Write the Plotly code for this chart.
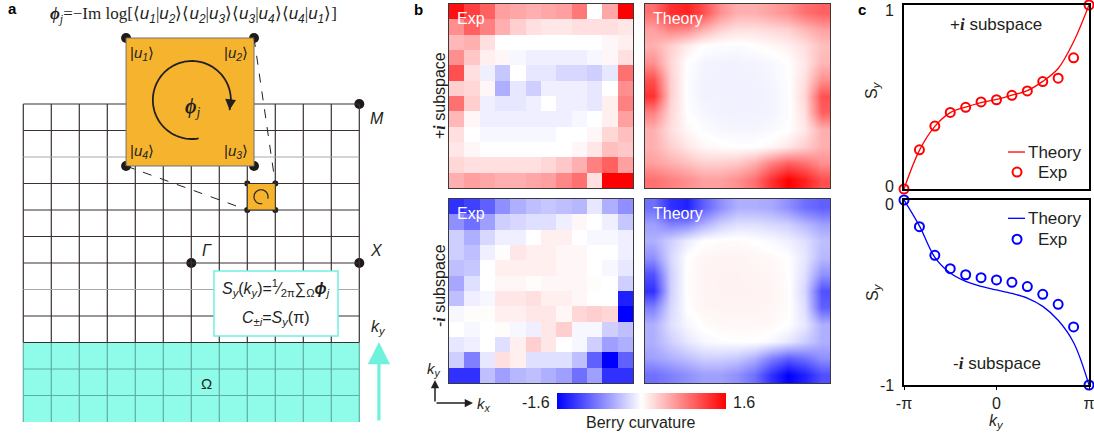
import numpy as np
import plotly.graph_objects as go

W, H = 1094, 438
FONT = "Arial, Liberation Sans, sans-serif"
SERIF = "Times New Roman, Liberation Serif, serif"
INK = "#231f20"
PI = 3.1416

# ---------------- panel b data: Berry curvature (rows: top k_y=pi -> bottom k_y=-pi) -------------
exp_plus = [
    [1.5, 1.2, 1.0, 0.6, 0.55, 0.5, 0.55, 0.6, 0.85, 0.0, 0.55, 1.6],
    [0.7, 1.0, 0.8, 0.5, 0.3, 0.2, 0.15, 0.15, 0.2, 0.2, 0.2, 0.15],
    [0.45, 0.5, 0.2, 0.0, 0.0, 0.0, 0.0, 0.0, 0.0, 0.0, 0.05, 0.1],
    [0.7, 0.35, 0.1, 0.05, -0.05, -0.1, -0.1, -0.1, -0.1, -0.05, 0.05, 0.2],
    [1.1, 0.2, -0.1, -0.35, 0.0, -0.15, -0.15, -0.25, -0.25, -0.3, -0.15, 0.9],
    [0.3, 0.25, 0.05, -0.5, -0.15, -0.3, -0.1, -0.1, -0.1, -0.15, 0.0, 0.7],
    [0.9, 0.3, -0.1, -0.15, -0.15, -0.1, 0.0, -0.1, -0.1, -0.15, 0.1, 0.8],
    [0.45, 0.05, -0.1, -0.1, -0.1, -0.1, -0.1, -0.1, -0.05, 0.0, 0.1, 0.6],
    [0.2, 0.0, -0.05, -0.05, -0.05, -0.05, -0.05, 0.0, 0.0, 0.05, 0.25, 0.4],
    [0.15, 0.05, 0.0, 0.0, 0.0, 0.0, 0.0, 0.0, 0.05, 0.15, 0.4, 0.35],
    [0.25, 0.2, 0.2, 0.2, 0.2, 0.2, 0.25, 0.35, 0.5, 0.8, 1.0, 0.6],
    [0.5, 0.6, 0.55, 0.5, 0.5, 0.55, 0.6, 0.75, 0.9, 0.2, 1.6, 1.6],
]
exp_minus = [
    [-1.3, -1.2, -1.0, -0.7, -0.5, -0.4, -0.35, -0.4, -0.45, -0.15, -0.5, -0.7],
    [-0.7, -0.9, -0.6, -0.3, -0.25, -0.2, -0.2, -0.1, 0.05, 0.0, -0.1, -0.35],
    [-0.3, -0.5, -0.25, -0.1, -0.1, 0.0, 0.1, 0.1, 0.0, -0.05, -0.05, -0.1],
    [-0.3, -0.4, -0.1, 0.02, 0.15, 0.1, 0.1, 0.05, 0.05, 0.0, 0.0, -0.1],
    [-0.4, -0.35, 0.0, 0.1, 0.1, 0.1, 0.1, 0.05, 0.05, 0.0, -0.05, -0.15],
    [-0.55, -0.2, 0.0, 0.05, 0.05, 0.02, 0.05, 0.05, 0.05, 0.02, 0.0, -0.3],
    [-0.4, -0.1, -0.05, 0.15, 0.15, 0.2, 0.1, 0.1, 0.05, 0.0, 0.0, -1.4],
    [-0.05, 0.02, 0.02, 0.1, 0.1, 0.15, 0.15, 0.05, 0.25, 0.3, 0.25, -1.6],
    [0.0, -0.05, 0.0, 0.02, -0.05, -0.1, 0.15, 0.3, -0.05, -0.05, -0.3, -0.4],
    [-0.15, -0.1, 0.0, -0.2, 0.1, 0.3, 0.15, 0.0, -0.05, -0.3, -0.6, -0.5],
    [-0.3, -0.8, -0.15, 0.2, 0.1, -0.2, -0.2, -0.2, -0.4, -1.0, -1.6, -1.0],
    [-1.3, -1.3, -0.4, -0.6, -0.45, -0.4, -0.5, -0.6, -0.9, -0.6, -1.3, -1.3],
]
theory_plus = [
    [0.9, 1.3, 1.4, 1.1, 0.7, 0.5, 0.5, 0.6, 0.7, 0.9, 1.0],
    [0.6, 0.8, 0.75, 0.5, 0.3, 0.2, 0.2, 0.25, 0.3, 0.45, 0.6],
    [0.5, 0.3, 0.12, 0.0, -0.02, -0.03, 0.0, 0.04, 0.1, 0.2, 0.4],
    [0.7, 0.25, 0.0, -0.07, -0.08, -0.08, -0.07, -0.05, 0.0, 0.15, 0.45],
    [1.1, 0.3, -0.02, -0.08, -0.09, -0.09, -0.08, -0.06, -0.01, 0.2, 0.7],
    [1.3, 0.3, -0.02, -0.08, -0.08, -0.09, -0.09, -0.07, -0.02, 0.25, 1.1],
    [0.8, 0.25, 0.0, -0.06, -0.08, -0.08, -0.08, -0.07, -0.02, 0.2, 1.0],
    [0.5, 0.2, 0.05, -0.02, -0.05, -0.06, -0.06, -0.04, 0.0, 0.15, 0.5],
    [0.5, 0.3, 0.15, 0.05, 0.02, 0.0, 0.0, 0.05, 0.15, 0.3, 0.5],
    [0.6, 0.5, 0.4, 0.3, 0.3, 0.35, 0.5, 0.8, 1.0, 0.9, 0.7],
    [0.9, 0.8, 0.7, 0.6, 0.6, 0.7, 0.9, 1.3, 1.6, 1.4, 1.1],
]
theory_minus = [
    [-0.9, -1.3, -1.4, -1.0, -0.7, -0.5, -0.5, -0.55, -0.7, -0.9, -1.0],
    [-0.6, -0.8, -0.75, -0.5, -0.3, -0.2, -0.2, -0.25, -0.3, -0.45, -0.6],
    [-0.5, -0.3, -0.12, 0.0, 0.02, 0.03, 0.0, -0.04, -0.1, -0.2, -0.4],
    [-0.7, -0.25, 0.0, 0.06, 0.07, 0.07, 0.06, 0.04, 0.0, -0.15, -0.45],
    [-1.1, -0.3, 0.02, 0.07, 0.08, 0.08, 0.07, 0.06, 0.01, -0.2, -0.7],
    [-1.3, -0.3, 0.02, 0.07, 0.08, 0.08, 0.08, 0.07, 0.02, -0.25, -1.1],
    [-0.8, -0.25, 0.0, 0.06, 0.07, 0.07, 0.07, 0.06, 0.02, -0.2, -1.0],
    [-0.5, -0.2, -0.05, 0.02, 0.05, 0.05, 0.05, 0.04, 0.0, -0.15, -0.5],
    [-0.5, -0.3, -0.15, -0.05, -0.02, 0.0, 0.0, -0.05, -0.15, -0.3, -0.5],
    [-0.6, -0.5, -0.4, -0.3, -0.3, -0.35, -0.5, -0.8, -1.0, -0.9, -0.7],
    [-0.9, -0.8, -0.7, -0.6, -0.6, -0.7, -0.9, -1.3, -1.6, -1.4, -1.1],
]
berry_min, berry_max = -1.6, 1.6
berry_ticktext = ["-1.6", "1.6"]
berry_colorscale = [[0.0, "rgb(0,0,255)"], [0.5, "rgb(255,255,255)"], [1.0, "rgb(255,0,0)"]]

# ---------------- panel c data: Wilson-loop sums S_y(k_y) -------------
ky = [-3.1416, -2.618, -2.094, -1.571, -1.047, -0.524, 0.0, 0.524, 1.047, 1.571, 2.094, 2.618, 3.1416]
sy_plus_exp = [0.0, 0.213, 0.342, 0.416, 0.444, 0.473, 0.485, 0.509, 0.533, 0.584, 0.602, 0.713, 1.0]
sy_plus_theory = [0.0, 0.21, 0.34, 0.415, 0.445, 0.47, 0.487, 0.51, 0.535, 0.585, 0.655, 0.80, 1.0]
sy_minus_exp = [0.0, -0.144, -0.299, -0.371, -0.404, -0.420, -0.432, -0.445, -0.468, -0.510, -0.564, -0.686, -1.0]
sy_minus_theory = [0.0, -0.14, -0.31, -0.395, -0.44, -0.467, -0.486, -0.505, -0.53, -0.575, -0.65, -0.77, -1.0]
ky_tickvals = [-3.1416, 0.0, 3.1416]
ky_ticktext = ["-π", "0", "π"]

# ---------------- panel a schematic (in Brillouin-zone grid units) -------------
n_grid = 12
omega_rows = 3
light_rows = [5, 10]
big_plaquette = [3.67, 9.66, 8.24, 14.49]   # x0, y0, x1, y1
small_plaquette = [8, 8, 9, 9]
hs_x = [12, 6, 12]
hs_y = [12, 6, 6]


def pxx(x):
    return x / W


def pxy(y):
    return 1 - y / H


fig = go.Figure()

# ---------- panel a ----------
AX_A = dict(xref="x", yref="y")
shapes = []
shapes.append(dict(type="rect", x0=0, x1=n_grid, y0=0, y1=omega_rows, fillcolor="#8ffbe9",
                   line=dict(width=0), layer="below", **AX_A))
dark = "#3b3131"
teal = "#5eaea2"
for i in range(n_grid + 1):
    shapes.append(dict(type="line", x0=i, x1=i, y0=omega_rows, y1=n_grid, line=dict(color=dark, width=1.2), **AX_A))
    shapes.append(dict(type="line", x0=i, x1=i, y0=0, y1=omega_rows, line=dict(color=teal, width=1.2), **AX_A))
for j in range(omega_rows, n_grid + 1):
    col = "#a9a9a9" if j in light_rows else dark
    shapes.append(dict(type="line", x0=0, x1=n_grid, y0=j, y1=j, line=dict(color=col, width=1.2), **AX_A))
for j in range(1, omega_rows):
    shapes.append(dict(type="line", x0=0, x1=n_grid, y0=j, y1=j, line=dict(color=teal, width=1.2), **AX_A))

bx0, by0, bx1, by1 = big_plaquette
sx0, sy0, sx1, sy1 = small_plaquette
orange = "#f6b42e"
shapes.append(dict(type="rect", x0=bx0, x1=bx1, y0=by0, y1=by1, fillcolor=orange,
                   line=dict(color="#707070", width=1), **AX_A))
shapes.append(dict(type="rect", x0=sx0, x1=sx1, y0=sy0, y1=sy1, fillcolor=orange,
                   line=dict(color="#333", width=1), **AX_A))
shapes.append(dict(type="line", x0=bx1, y0=by1, x1=sx1, y1=sy1, line=dict(color=INK, width=1, dash="dash"), **AX_A))
shapes.append(dict(type="line", x0=bx0, y0=by0, x1=sx0, y1=sy0, line=dict(color=INK, width=1, dash="dash"), **AX_A))

# formula box
shapes.append(dict(type="rect", x0=6.81, x1=11.24, y0=3.25, y1=5.70, fillcolor="white",
                   line=dict(color="#6ff0e0", width=1.5), **AX_A))

# circular arrows (schematic glyphs)
ux, uy = 28.0, 26.5   # pixel size of one grid cell


def arc_path(cx, cy, r_px, a0, a1):
    t = np.radians(np.linspace(a0, a1, 80))
    xs = cx + r_px / ux * np.cos(t)
    ys = cy + r_px / uy * np.sin(t)
    return "M " + " L ".join(f"{a:.4f},{b:.4f}" for a, b in zip(xs, ys)), (xs, ys)


annotations = []
for (cx, cy, r, w, asz) in [(6.02, 12.15, 39, 1.8, 1.2), (8.49, 8.5, 7, 1.2, 0.8)]:
    path, (xs, ys) = arc_path(cx, cy, r, -80, -375)
    shapes.append(dict(type="path", path=path, line=dict(color=INK, width=w), **AX_A))
    annotations.append(dict(x=xs[-1], y=ys[-1], ax=xs[-6], ay=ys[-6], axref="x", ayref="y",
                            showarrow=True, arrowhead=2, arrowsize=asz, arrowwidth=w,
                            arrowcolor=INK, text="", **AX_A))

# dots
fig.add_trace(go.Scatter(x=[bx0, bx1, bx0, bx1], y=[by1, by1, by0, by0], mode="markers",
                         marker=dict(size=10, color="#1e1a1a"), xaxis="x", yaxis="y",
                         cliponaxis=False, hoverinfo="skip"))
fig.add_trace(go.Scatter(x=[sx0, sx1, sx0, sx1], y=[sy1, sy1, sy0, sy0], mode="markers",
                         marker=dict(size=6, color="#1e1a1a"), xaxis="x", yaxis="y",
                         cliponaxis=False, hoverinfo="skip"))
fig.add_trace(go.Scatter(x=hs_x, y=hs_y, mode="markers",
                         marker=dict(size=10, color="#1e1a1a"), xaxis="x", yaxis="y",
                         cliponaxis=False, hoverinfo="skip"))


def txt(x, y, text, size=15, family=FONT, color=INK, xref="paper", yref="paper", **kw):
    d = dict(x=x, y=y, text=text, showarrow=False, font=dict(size=size, family=family, color=color),
             xanchor="center", yanchor="middle", xref=xref, yref=yref)
    d.update(kw)
    annotations.append(d)


def ann_a(x, y, text, size=15, family=FONT, **kw):
    txt(x, y, text, size=size, family=family, xref="x", yref="y", **kw)


U = lambda n: f"|<i>u</i><sub><i>{n}</i></sub>⟩"
ann_a(4.24, 13.92, U(1), size=15)
ann_a(7.59, 13.92, U(2), size=15)
ann_a(4.24, 10.19, U(4), size=15)
ann_a(7.59, 10.19, U(3), size=15)
ann_a(6.05, 11.85, "<b><i>ϕ</i></b><sub><i>j</i></sub>", size=20, family=SERIF)
ann_a(12.63, 11.47, "<i>M</i>", size=16)
ann_a(6.56, 6.49, "<i>Γ</i>", size=16)
ann_a(12.63, 6.49, "<i>X</i>", size=16)
ann_a(6.56, 1.47, "Ω", size=15)

uu = lambda a, b: (f'⟨<span style="font-family:Arial, Liberation Sans"><i>u</i><sub><i>{a}</i></sub></span>|'
                   f'<span style="font-family:Arial, Liberation Sans"><i>u</i><sub><i>{b}</i></sub></span>⟩')
formula = ("<b><i>ϕ</i></b><sub><i>j</i></sub>=−Im log[" + uu(1, 2) + uu(2, 3) + uu(3, 4) + uu(4, 1) + "]")
ann_a(6.08, 15.36, formula, size=17, family=SERIF)
ann_a(9.02, 5.06, "<i>S</i><sub><i>y</i></sub>(<i>k</i><sub><i>y</i></sub>)=<sup>1</sup>⁄<sub>2π</sub>"
      "∑<sub>Ω</sub><b><i>ϕ</i></b><sub><i>j</i></sub>", size=16)
ann_a(9.02, 3.92, "<i>C</i><sub>±<i>i</i></sub>=<i>S</i><sub><i>y</i></sub>(π)", size=16)
ann_a(12.70, 3.55, "<i>k</i><sub><i>y</i></sub>", size=16)
annotations.append(dict(x=12.70, y=3.02, ax=12.70, ay=0.0, axref="x", ayref="y", showarrow=True,
                        arrowhead=2, arrowsize=1.4, arrowwidth=3.2, arrowcolor="#6ff2dc", text="", **AX_A))

fig.update_layout(
    xaxis=dict(domain=[0, 400 / W], range=[-23.3 / ux, (400 - 23.3) / ux], visible=False,
               fixedrange=True, automargin=False),
    yaxis=dict(domain=[0, 1], range=[(422 - 438) / uy, 422 / uy], visible=False,
               fixedrange=True, automargin=False),
)

# ---------- panel b ----------
hm_specs = [
    ("x2", "y2", exp_plus, False, (449, 633), (4, 188), "Exp"),
    ("x3", "y3", theory_plus, True, (645, 830), (4, 188), "Theory"),
    ("x4", "y4", exp_minus, False, (449, 633), (199, 383), "Exp"),
    ("x5", "y5", theory_minus, True, (645, 830), (199, 383), "Theory"),
]
for k, (xa, ya, z, smooth, (xl, xr), (yt, yb), label) in enumerate(hm_specs):
    n = len(z)
    tr = go.Heatmap(z=z, xaxis=xa, yaxis=ya, zmin=berry_min, zmax=berry_max,
                    colorscale=berry_colorscale, zsmooth="best" if smooth else False,
                    showscale=(k == 0), hoverinfo="skip")
    if k == 0:
        tr.colorbar = dict(orientation="h", thickness=16, thicknessmode="pixels",
                           len=169, lenmode="pixels", x=pxx(641.5), xanchor="center",
                           y=pxy(401), yanchor="middle", showticklabels=False, ticks="",
                           outlinewidth=0, xpad=0, ypad=0)
    fig.add_trace(tr)
    axn = xa[1:]
    fig.layout[f"xaxis{axn}"] = dict(domain=[pxx(xl), pxx(xr)], range=[-0.5, n - 0.5], showticklabels=False,
                                      ticks="", showgrid=False, zeroline=False, showline=True, mirror=True,
                                      linecolor="#3a3a3a", linewidth=1, anchor=ya, automargin=False)
    fig.layout[f"yaxis{axn}"] = dict(domain=[pxy(yb), pxy(yt)], range=[n - 0.5, -0.5], showticklabels=False,
                                      ticks="", showgrid=False, zeroline=False, showline=True, mirror=True,
                                      linecolor="#3a3a3a", linewidth=1, anchor=xa, automargin=False)
    txt(0.035, 0.922, label, size=16, color="white", xref=f"{xa} domain", yref=f"{ya} domain",
        xanchor="left")

IB = '<span style="font-family:Times New Roman, Liberation Serif"><b><i>i</i></b></span>'
txt(pxx(439), pxy(96), "+" + IB + " subspace", size=16, textangle=-90)
txt(pxx(439), pxy(286), "-" + IB + " subspace", size=16, textangle=-90)
# k axes arrows in b
annotations.append(dict(xref="paper", yref="paper", x=pxx(435), y=pxy(380), ax=0, ay=23, text="",
                        showarrow=True, arrowhead=2, arrowsize=1.1, arrowwidth=1.5, arrowcolor=INK))
annotations.append(dict(xref="paper", yref="paper", x=pxx(473), y=pxy(403), ax=-38, ay=0, text="",
                        showarrow=True, arrowhead=2, arrowsize=1.1, arrowwidth=1.5, arrowcolor=INK))
txt(pxx(434), pxy(369), "<i>k</i><sub><i>y</i></sub>", size=15)
txt(pxx(484), pxy(404), "<i>k</i><sub><i>x</i></sub>", size=15)
# colorbar labels
txt(pxx(536), pxy(402), berry_ticktext[0], size=16)
txt(pxx(744), pxy(402), berry_ticktext[1], size=16)
txt(pxx(640), pxy(422), "Berry curvature", size=16)

# ---------- panel c ----------
c_specs = [
    ("x6", "y6", sy_plus_exp, sy_plus_theory, "#ff0000", (5, 189), [0, 1], ["0", "1"], [3, -6], False),
    ("x7", "y7", sy_minus_exp, sy_minus_theory, "#0000ff", (200, 385), [-1, 0], ["-1", "0"], [0, -4], True),
]
for xa, ya, sexp, sth, col, (yt, yb), yr, ytt, yshifts, bottom in c_specs:
    fig.add_trace(go.Scatter(x=ky, y=sth, mode="lines", line=dict(color=col, width=1.3, shape="spline"),
                             xaxis=xa, yaxis=ya, cliponaxis=False, hoverinfo="skip"))
    fig.add_trace(go.Scatter(x=ky, y=sexp, mode="markers",
                             marker=dict(symbol="circle-open", size=9, color=col, line=dict(width=2, color=col)),
                             xaxis=xa, yaxis=ya, cliponaxis=False, hoverinfo="skip"))
    axn = xa[1:]
    fig.layout[f"xaxis{axn}"] = dict(domain=[pxx(904), pxx(1089)], range=[-PI, PI], anchor=ya,
                                      showgrid=False, zeroline=False, showline=True, mirror=True,
                                      linecolor="black", linewidth=1.5,
                                      tickvals=ky_tickvals, ticktext=ky_ticktext,
                                      showticklabels=bottom, ticks="outside" if bottom else "",
                                      ticklen=3, tickcolor="black", ticklabelstandoff=0,
                                      ticklabeloverflow="allow",
                                      tickfont=dict(size=16, family=FONT, color=INK), automargin=False)
    fig.layout[f"yaxis{axn}"] = dict(domain=[pxy(yb), pxy(yt)], range=yr, anchor=xa,
                                      showgrid=False, zeroline=False, showline=True, mirror=True,
                                      linecolor="black", linewidth=1.5, showticklabels=False,
                                      ticks="", automargin=False)
    # y tick labels placed at their tick values
    for v, t, s in zip(yr, ytt, yshifts):
        txt(-0.045, v, t, size=16, xref=f"{xa} domain", yref=ya, xanchor="right", yshift=s)

# legends in c (drawn as glyphs)
for xa, ya, col, yl, yc in [("x6", "y6", "#ff0000", 0.201, 0.092), ("x7", "y7", "#0000ff", 0.901, 0.788)]:
    shapes.append(dict(type="line", xref=f"{xa} domain", yref=f"{ya} domain", x0=0.562, x1=0.654, y0=yl, y1=yl,
                       line=dict(color=col, width=1.3)))
    shapes.append(dict(type="circle", xref=f"{xa} domain", yref=f"{ya} domain", x0=0.611 - 0.0243,
                       x1=0.611 + 0.0243, y0=yc - 0.0245, y1=yc + 0.0245, line=dict(color=col, width=2)))
    txt(0.811, yl, "Theory", size=17, xref=f"{xa} domain", yref=f"{ya} domain")
    txt(0.80, yc, "Exp", size=17, xref=f"{xa} domain", yref=f"{ya} domain")

txt(pxx(996), pxy(25), "+" + IB + " subspace", size=17)
txt(pxx(997), pxy(363), "-" + IB + " subspace", size=17)
for yy in (90, 292):
    txt(pxx(873), pxy(yy), "S<sub><i>y</i></sub>", size=16, textangle=-90)
txt(pxx(996), pxy(421), "<i>k</i><sub><i>y</i></sub>", size=16)

# panel letters
for letter, lx, ly in [("a", 12, 9), ("b", 418, 10), ("c", 862, 10)]:
    txt(pxx(lx), pxy(ly), f"<b>{letter}</b>", size=15, color="black")

fig.update_layout(template="none", autosize=False, width=W, height=H,
                  margin=dict(l=0, r=0, t=0, b=0, pad=0, autoexpand=False),
                  paper_bgcolor="white", plot_bgcolor="white", showlegend=False,
                  shapes=shapes, annotations=annotations)

fig.write_html("out.html")
